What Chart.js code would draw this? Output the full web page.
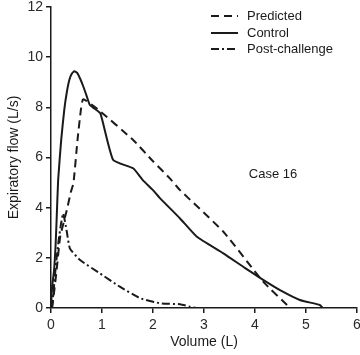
<!DOCTYPE html>
<html><head><meta charset="utf-8">
<script src="https://cdn.jsdelivr.net/npm/chart.js@4/dist/chart.umd.min.js"></script>
<style>html,body{margin:0;padding:0;background:#fff}#wrap{width:360px;height:355px}</style>
</head><body><div id="wrap"><canvas id="c" width="360" height="355"></canvas></div>
<script>
const seriesNames = ['Predicted', 'Control', 'Post-challenge'];
const predictedVol  = [0.02,0.05,0.11,0.18,0.31,0.39,0.44,0.52,0.58,0.63,0.9,1.61,2.0,2.33,2.53,3.38,4.16,4.69];
const predictedFlow = [0,0.45,1.5,2.84,3.9,4.63,4.97,6.7,7.8,8.32,7.95,6.7,5.85,5.17,4.7,3.04,1.05,0];
const controlVol  = [0,0.02,0.06,0.09,0.11,0.14,0.2,0.26,0.31,0.36,0.41,0.46,0.51,0.57,0.63,0.7,0.76,0.85,0.97,1.22,1.61,1.8,2.0,2.14,2.53,2.86,3.38,3.8,4.16,4.5,4.88,5.27,5.33];
const controlFlow = [0,0.8,1.5,2.5,3.5,5.1,6.7,7.9,8.6,9.1,9.35,9.44,9.38,9.15,8.85,8.45,8.1,7.95,7.75,5.9,5.57,5.1,4.7,4.37,3.57,2.84,2.18,1.6,1.12,0.7,0.32,0.12,0];
const postVol  = [0.02,0.06,0.1,0.15,0.2,0.24,0.31,0.37,0.57,0.96,1.35,1.75,2.14,2.53,2.73,2.85];
const postFlow = [0,0.9,1.8,2.7,3.4,3.77,3.04,2.38,1.91,1.38,0.85,0.39,0.19,0.15,0.05,0];
const xTicks = [0,1,2,3,4,5,6];
const yTicks = [0,2,4,6,8,10,12];
const annotationText = 'Case 16';

const pts = (xs, ys) => xs.map((x, i) => ({x, y: ys[i]}));
const dashes = [[8,5], [], [8,3,2,3]];
const FONT = '"Liberation Sans", Arial, sans-serif';
const INK = '#1a1a1a';

const legendPlugin = {
  id: 'customLegend',
  afterDraw(chart) {
    const ctx = chart.ctx;
    ctx.save();
    const rows = [16, 33, 49];
    chart.data.datasets.forEach((ds, i) => {
      const y = rows[i];
      ctx.beginPath();
      ctx.setLineDash(ds.borderDash || []);
      ctx.lineWidth = 2;
      ctx.strokeStyle = INK;
      ctx.moveTo(211, y); ctx.lineTo(238, y);
      ctx.stroke();
      ctx.setLineDash([]);
      ctx.fillStyle = INK;
      ctx.font = '13px ' + FONT;
      ctx.textBaseline = 'middle';
      ctx.textAlign = 'left';
      ctx.fillText(ds.label, 247, y);
    });
    ctx.font = '13px ' + FONT;
    ctx.textAlign = 'center';
    ctx.textBaseline = 'middle';
    ctx.fillText(annotationText, 273, 174);
    ctx.restore();
  }
};

new Chart(document.getElementById('c'), {
  type: 'line',
  data: {
    datasets: [
      {label: seriesNames[0], data: pts(predictedVol, predictedFlow), borderDash: dashes[0]},
      {label: seriesNames[1], data: pts(controlVol, controlFlow), borderDash: dashes[1]},
      {label: seriesNames[2], data: pts(postVol, postFlow), borderDash: dashes[2]}
    ].map(d => Object.assign(d, {borderColor: INK, borderWidth: 2, pointRadius: 0, tension: 0.15, fill: false}))
  },
  options: {
    responsive: false,
    animation: false,
    events: [],
    layout: {padding: {top: 7, right: 3, left: 0, bottom: 0}},
    plugins: {legend: {display: false}, tooltip: {enabled: false}},
    scales: {
      x: {
        type: 'linear', min: 0, max: 6,
        afterBuildTicks: s => { s.ticks = xTicks.map(v => ({value: v})); },
        afterFit: s => { s.height = 47; s.paddingLeft = 0; s.paddingRight = 0; },
        ticks: {color: '#2a2a2a', font: {size: 14, family: FONT}, padding: 4, maxRotation: 0},
        grid: {drawOnChartArea: false, drawTicks: true, tickLength: 5, color: INK, lineWidth: 1.5},
        border: {display: true, color: INK, width: 1.5},
        title: {display: true, text: 'Volume (L)', color: INK, font: {size: 14, family: FONT}, padding: {top: 3, bottom: 4}}
      },
      y: {
        type: 'linear', min: 0, max: 12,
        afterBuildTicks: s => { s.ticks = yTicks.map(v => ({value: v})); },
        afterFit: s => { s.width = 51; s.paddingTop = 0; s.paddingBottom = 0; },
        ticks: {color: '#2a2a2a', font: {size: 14, family: FONT}, padding: 3},
        grid: {drawOnChartArea: false, drawTicks: true, tickLength: 5, color: INK, lineWidth: 1.5},
        border: {display: true, color: INK, width: 1.5},
        title: {display: true, text: 'Expiratory flow (L/s)', color: INK, font: {size: 14, family: FONT}, padding: {top: 6, bottom: 0}}
      }
    }
  },
  plugins: [legendPlugin]
});
</script></body></html>
